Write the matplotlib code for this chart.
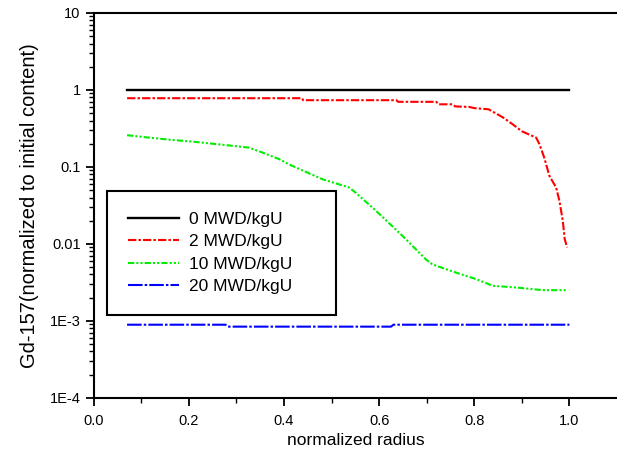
import numpy as np
import matplotlib
matplotlib.use('Agg')
import matplotlib.pyplot as plt
from matplotlib.ticker import FixedLocator, FixedFormatter, LogLocator, NullFormatter

plt.rcParams['font.family'] = ['Liberation Sans', 'DejaVu Sans']

# 读出的数据
labels = ['0 MWD/kgU', '2 MWD/kgU', '10 MWD/kgU', '20 MWD/kgU']

x0 = [0.07, 1.0]
y0 = [1.0, 1.0]

x2 = [0.07, 0.438, 0.44, 0.636, 0.64, 0.72, 0.725, 0.754, 0.76, 0.79, 0.80, 0.83,
      0.86, 0.88, 0.90, 0.93, 0.937, 0.947, 0.958, 0.972, 0.979, 0.986, 0.99, 0.995]
y2 = [0.78, 0.78, 0.735, 0.735, 0.70, 0.70, 0.65, 0.65, 0.61, 0.60, 0.58, 0.56,
      0.44, 0.36, 0.29, 0.24, 0.197, 0.132, 0.076, 0.054, 0.036, 0.020, 0.0116, 0.0090]

x10 = [0.07, 0.116, 0.165, 0.207, 0.253, 0.298, 0.326, 0.354, 0.39, 0.41, 0.481,
       0.537, 0.551, 0.593, 0.649, 0.698, 0.712, 0.761, 0.804, 0.839, 0.888, 0.944, 0.996]
y10 = [0.258, 0.24, 0.224, 0.213, 0.199, 0.186, 0.178, 0.154, 0.126, 0.108, 0.069,
       0.054, 0.046, 0.027, 0.0127, 0.0063, 0.0054, 0.00424, 0.00348, 0.00285, 0.00271, 0.0025, 0.0025]

x20 = [0.07, 0.277, 0.282, 0.625, 0.63, 1.0]
y20 = [0.00089, 0.00089, 0.00084, 0.00084, 0.00089, 0.00089]

yticks = [1e-4, 1e-3, 1e-2, 1e-1, 1, 10]
ytick_labels = ['1E-4', '1E-3', '0.01', '0.1', '1', '10']

fig = plt.figure(figsize=(6.17, 4.62), dpi=100)
ax = fig.add_axes([0.152, 0.139, 0.848, 0.833])

ax.plot(x0, y0, color='black', lw=1.7, label=labels[0])
ax.plot(x2, y2, color='red', lw=1.5, dashes=(4, 1, 1.2, 1), label=labels[1])
ax.plot(x10, y10, color='#00ee00', lw=1.5, dashes=(3, 1, 1, 1, 1, 1), label=labels[2])
ax.plot(x20, y20, color='blue', lw=1.5, dashes=(7, 1, 1.2, 1), label=labels[3])

ax.set_yscale('log')
ax.set_ylim(1e-4, 10)
ax.set_xlim(0.0, 1.1)

ax.yaxis.set_major_locator(FixedLocator(yticks))
ax.yaxis.set_major_formatter(FixedFormatter(ytick_labels))
ax.yaxis.set_minor_locator(LogLocator(base=10, subs=np.arange(2, 10)))
ax.yaxis.set_minor_formatter(NullFormatter())
ax.set_xticks([0.0, 0.2, 0.4, 0.6, 0.8, 1.0])
ax.set_xticklabels(['0.0', '0.2', '0.4', '0.6', '0.8', '1.0'])
ax.xaxis.set_minor_locator(FixedLocator([0.1, 0.3, 0.5, 0.7, 0.9]))

ax.tick_params(axis='both', which='major', direction='out', length=6, width=1.3, labelsize=10.5)
ax.tick_params(axis='both', which='minor', direction='out', length=3.5, width=1.0)
ax.tick_params(axis='x', pad=6)

ax.spines['right'].set_visible(False)
for s in ['left', 'bottom', 'top']:
    ax.spines[s].set_linewidth(1.5)

ax.set_xlabel('normalized radius', fontsize=12.5, labelpad=3)
ax.set_ylabel('Gd-157(normalized to initial content)', fontsize=14.5, labelpad=8)

# 图例框按参考图的大小展开
leg = ax.legend(loc='upper left', bbox_to_anchor=(0.025, 0.221, 0.438, 0.317), mode='expand',
                fontsize=12.5, frameon=True, fancybox=False, edgecolor='black', framealpha=1,
                handlelength=2.95, handletextpad=0.6, labelspacing=0.42, borderpad=1.2,
                borderaxespad=0)
leg.get_frame().set_linewidth(1.5)

fig.savefig('out.png', dpi=100)
